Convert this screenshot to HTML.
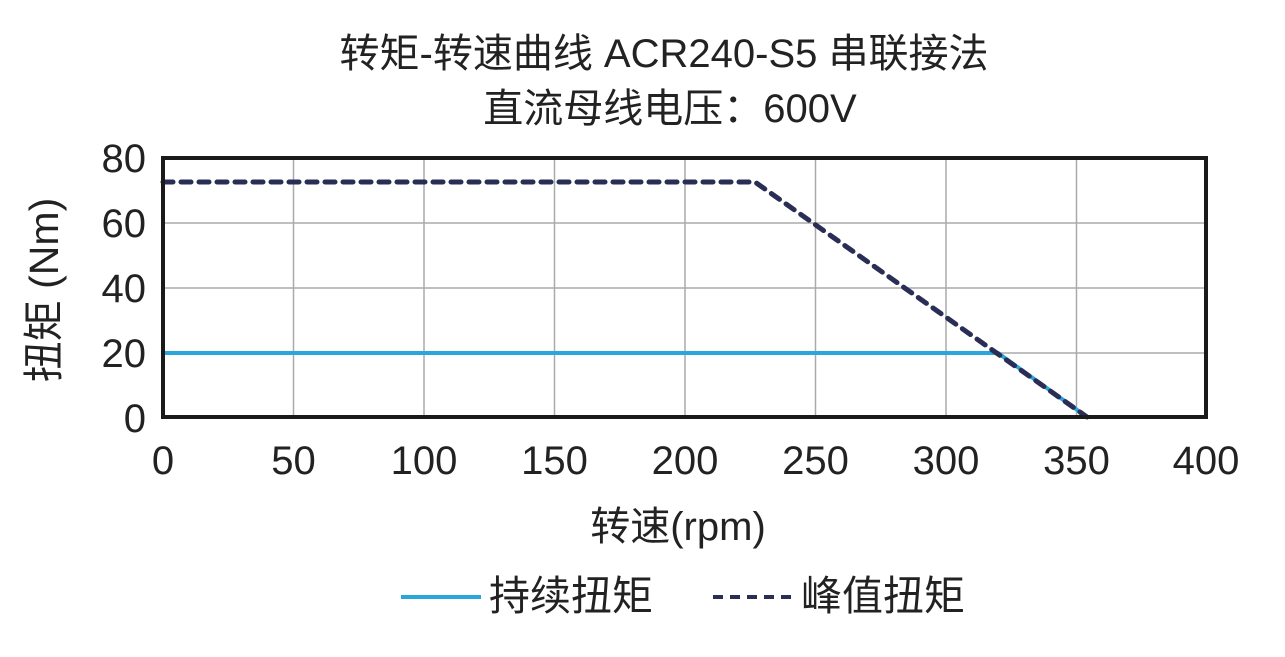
<!DOCTYPE html><html><head><meta charset="utf-8"><style>body{margin:0;background:#fff}svg text{font-family:"Liberation Sans","Noto Sans CJK SC",sans-serif;fill:#222}</style></head><body>
<svg width="1285" height="652" viewBox="0 0 1285 652" xmlns="http://www.w3.org/2000/svg">
<text x="664" y="67" font-size="40" text-anchor="middle">转矩-转速曲线 ACR240-S5 串联接法</text>
<text x="670" y="122" font-size="40" text-anchor="middle">直流母线电压：600V</text>
<g stroke="#aaa" stroke-width="1.5">
<line x1="293.5" y1="158" x2="293.5" y2="417"/><line x1="424" y1="158" x2="424" y2="417"/><line x1="554.5" y1="158" x2="554.5" y2="417"/><line x1="685" y1="158" x2="685" y2="417"/><line x1="815.5" y1="158" x2="815.5" y2="417"/><line x1="946" y1="158" x2="946" y2="417"/><line x1="1076.5" y1="158" x2="1076.5" y2="417"/>
<line x1="163" y1="223" x2="1206" y2="223"/><line x1="163" y1="288" x2="1206" y2="288"/><line x1="163" y1="353" x2="1206" y2="353"/>
</g>
<polyline points="163,353 998,353 1087,417" fill="none" stroke="#29a7dd" stroke-width="4"/>
<polyline points="163,182 755,182 1087,417" fill="none" stroke="#2a2d55" stroke-width="5" stroke-dasharray="10,8" stroke-linecap="round"/>
<rect x="163" y="158" width="1043" height="259" fill="none" stroke="#1a1a1a" stroke-width="4"/>
<g font-size="40" text-anchor="end"><text x="146" y="172">80</text><text x="146" y="237">60</text><text x="146" y="302">40</text><text x="146" y="367">20</text><text x="146" y="432">0</text></g>
<g font-size="40" text-anchor="middle"><text x="163" y="474">0</text><text x="293.5" y="474">50</text><text x="424" y="474">100</text><text x="554.5" y="474">150</text><text x="685" y="474">200</text><text x="815.5" y="474">250</text><text x="946" y="474">300</text><text x="1076.5" y="474">350</text><text x="1206" y="474">400</text></g>
<text x="678" y="540" font-size="40" text-anchor="middle">转速(rpm)</text>
<text transform="translate(58,290) rotate(-90)" font-size="41" text-anchor="middle">扭矩 (Nm)</text>
<line x1="401" y1="597" x2="481" y2="597" stroke="#29a7dd" stroke-width="4"/>
<text x="489" y="610" font-size="41">持续扭矩</text>
<line x1="713" y1="597" x2="793" y2="597" stroke="#2a2d55" stroke-width="4" stroke-dasharray="10,7"/>
<text x="801" y="610" font-size="41">峰值扭矩</text>
</svg></body></html>
